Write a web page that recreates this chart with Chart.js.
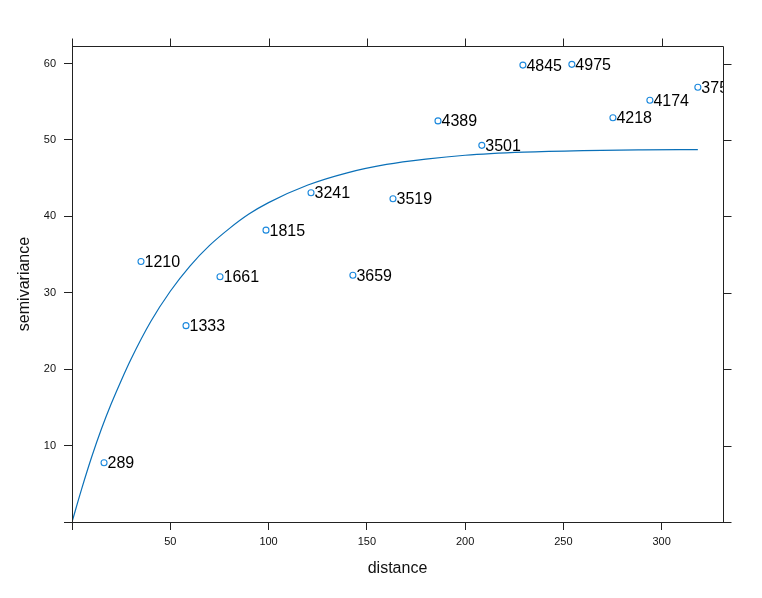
<!DOCTYPE html>
<html>
<head>
<meta charset="utf-8">
<script src="https://cdn.jsdelivr.net/npm/chart.js@4.4.1/dist/chart.umd.min.js"></script>
<style>
  html, body { margin: 0; padding: 0; background: #fff; }
  #wrap { width: 762px; height: 598px; }
</style>
</head>
<body>
<div id="wrap"><canvas id="c" width="762" height="598"></canvas></div>
<script>
// Sample variogram: distance, semivariance and number of pairs
const distances = [16.3, 35.1, 58.0, 75.3, 98.7, 121.6, 142.9, 163.3, 186.2, 208.5, 229.4, 254.3, 275.2, 294.0, 318.4];
const gammas    = [7.75, 34.1, 25.7, 32.1, 38.2, 43.1, 32.3, 42.3, 52.5, 49.3, 59.8, 59.9, 52.9, 55.2, 56.9];
const npairs    = ["289", "1210", "1333", "1661", "1815", "3241", "3659", "3519", "4389", "3501", "4845", "4975", "4218", "4174", "375"];

// Fitted model curve
const curveDist  = [0, 5, 10, 15, 20, 25, 30, 40, 50, 60, 70, 80, 90, 100, 120, 140, 160, 180, 200, 230, 260, 290, 318.4];
const curveGamma = [0, 4.4, 8.5, 12.2, 15.5, 18.5, 21.3, 26.2, 30.2, 33.5, 36.2, 38.4, 40.3, 41.8, 44.1, 45.7, 46.8, 47.5, 48.0, 48.4, 48.6, 48.7, 48.75];

const xTicks = [0, 50, 100, 150, 200, 250, 300];
const yTicks = [0, 10, 20, 30, 40, 50, 60];
const xMax = 331.2;
const yMax = 62.3;

const frameColor = '#222';
const tickLen = 8;

const framePlugin = {
  id: 'frame',
  afterDatasetsDraw(chart) {
    const {ctx, chartArea: a, scales: {x, y}} = chart;
    ctx.save();
    ctx.strokeStyle = frameColor;
    ctx.lineWidth = 1;
    ctx.beginPath();
    ctx.rect(Math.round(a.left) + 0.5, Math.round(a.top) + 0.5, Math.round(a.right - a.left), Math.round(a.bottom - a.top));
    // top ticks
    xTicks.forEach(v => {
      const px = Math.round(x.getPixelForValue(v)) + 0.5;
      ctx.moveTo(px, Math.round(a.top) + 0.5);
      ctx.lineTo(px, Math.round(a.top) + 0.5 - tickLen);
    });
    // right ticks
    yTicks.forEach(v => {
      const py = Math.round(y.getPixelForValue(v)) + 0.5;
      ctx.moveTo(Math.round(a.right) + 0.5, py);
      ctx.lineTo(Math.round(a.right) + 0.5 + tickLen, py);
    });
    ctx.stroke();
    ctx.restore();

    // point labels (clipped to the panel)
    ctx.save();
    ctx.beginPath();
    ctx.rect(a.left, a.top, a.right - a.left, a.bottom - a.top);
    ctx.clip();
    ctx.fillStyle = '#000';
    ctx.font = '16px "Liberation Sans", Arial, sans-serif';
    ctx.textBaseline = 'middle';
    ctx.textAlign = 'left';
    const meta = chart.getDatasetMeta(1);
    meta.data.forEach((pt, i) => {
      ctx.fillText(npairs[i], pt.x + 3.5, pt.y + 1);
    });
    ctx.restore();
  }
};

new Chart(document.getElementById('c'), {
  type: 'scatter',
  data: {
    datasets: [
      {
        type: 'line',
        data: curveDist.map((d, i) => ({x: d, y: curveGamma[i]})),
        borderColor: '#0a70b8',
        borderWidth: 1.2,
        pointRadius: 0,
        fill: false,
        cubicInterpolationMode: 'monotone',
        order: 2
      },
      {
        data: distances.map((d, i) => ({x: d, y: gammas[i]})),
        borderColor: '#1a88dd',
        backgroundColor: 'rgba(255,255,255,0)',
        borderWidth: 1.1,
        pointRadius: 3,
        pointHoverRadius: 3,
        order: 1
      }
    ]
  },
  options: {
    responsive: false,
    animation: false,
    events: [],
    layout: { padding: { left: 0, right: 39, top: 46, bottom: 0 } },
    plugins: { legend: { display: false }, tooltip: { enabled: false } },
    scales: {
      x: {
        type: 'linear',
        min: 0,
        max: xMax,
        afterBuildTicks: s => { s.ticks = xTicks.map(v => ({value: v})); },
        afterFit: s => { s.height = 76; },
        grid: { display: true, drawOnChartArea: false, drawTicks: true, tickLength: tickLen, color: frameColor, lineWidth: 1 },
        border: { display: true, color: frameColor, width: 1 },
        ticks: {
          color: '#111',
          font: { family: '"Liberation Sans", Arial, sans-serif', size: 11 },
          padding: 5,
          maxRotation: 0,
          autoSkip: false,
          callback: v => (v === 0 ? '' : String(v))
        },
        title: {
          display: true,
          text: 'distance',
          color: '#111',
          font: { family: '"Liberation Sans", Arial, sans-serif', size: 16 },
          padding: { top: 0, bottom: 20 }
        }
      },
      y: {
        type: 'linear',
        min: 0,
        max: yMax,
        afterBuildTicks: s => { s.ticks = yTicks.map(v => ({value: v})); },
        afterFit: s => { s.width = 72; },
        grid: { display: true, drawOnChartArea: false, drawTicks: true, tickLength: tickLen, color: frameColor, lineWidth: 1 },
        border: { display: true, color: frameColor, width: 1 },
        ticks: {
          color: '#111',
          font: { family: '"Liberation Sans", Arial, sans-serif', size: 11 },
          padding: 8,
          autoSkip: false,
          callback: v => (v === 0 ? '' : String(v))
        },
        title: {
          display: true,
          text: 'semivariance',
          color: '#111',
          font: { family: '"Liberation Sans", Arial, sans-serif', size: 16 },
          padding: { top: 15, bottom: 0 }
        }
      }
    }
  },
  plugins: [framePlugin]
});
</script>
</body>
</html>
